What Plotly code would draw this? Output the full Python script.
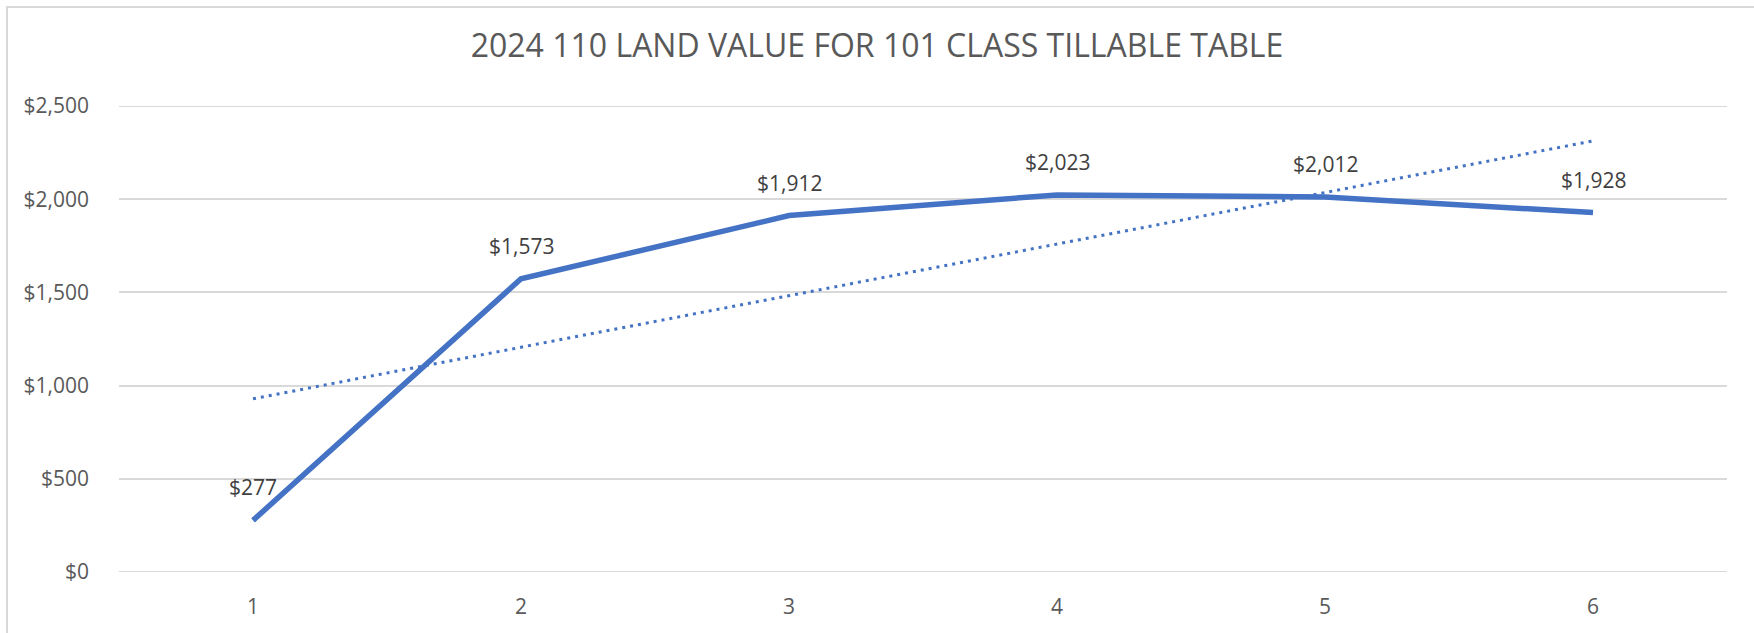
import numpy as np
import plotly.graph_objects as go

categories = [1, 2, 3, 4, 5, 6]
values = [277, 1573, 1912, 2023, 2012, 1928]
y_ticks = [0, 500, 1000, 1500, 2000, 2500]
y_tick_labels = ["$0", "$500", "$1,000", "$1,500", "$2,000", "$2,500"]
title_text = "2024 110 LAND VALUE FOR 101 CLASS TILLABLE TABLE"

W, H = 1754, 633
L, R, T, B = 119, 27, 106, 61

slope, intercept = np.polyfit(categories, values, 1)
trend = [slope * c + intercept for c in categories]

fig = go.Figure()
fig.add_trace(go.Scatter(x=categories, y=trend, mode="lines",
                         line=dict(color="#4472C4", width=3, dash="3px,5px"),
                         hoverinfo="skip", showlegend=False))
fig.add_trace(go.Scatter(x=categories, y=values, mode="lines",
                         line=dict(color="#4472C4", width=5.5),
                         showlegend=False))

for c, v in zip(categories, values):
    fig.add_annotation(x=c, y=v, text=f"${v:,}", showarrow=False, yshift=33,
                       font=dict(family="Open Sans", size=21, color="#404040"))

pw, ph = W - L - R, H - T - B
x0 = (7 - L) / pw
y1 = 1 + (T - 7) / ph
fig.add_shape(type="rect", xref="paper", yref="paper", x0=x0, x1=1 + (R + 10) / pw,
              y0=-(B + 10) / ph, y1=y1, line=dict(color="#D9D9D9", width=2),
              fillcolor="rgba(0,0,0,0)", layer="below")

# gridlines at range edges (plotly omits them at the exact range ends)
for yv in (y_ticks[0], y_ticks[-1]):
    fig.add_shape(type="line", xref="paper", yref="y", x0=0, x1=1, y0=yv, y1=yv,
                  line=dict(color="#D9D9D9", width=2), layer="below")

fig.update_layout(
    width=W, height=H,
    margin=dict(l=L, r=R, t=T, b=B),
    paper_bgcolor="white", plot_bgcolor="white",
    title=dict(text=title_text, x=0.5, xanchor="center", y=1 - 46 / H, yanchor="middle",
               font=dict(family="Open Sans", size=32, color="#595959")),
    font=dict(family="Open Sans", color="#595959"),
    xaxis=dict(range=[0.5, 6.5], tickvals=categories, ticktext=[str(c) for c in categories],
               showgrid=False, zeroline=False, showline=False,
               tickfont=dict(size=21, color="#595959"), ticks="", ticklabelstandoff=20),
    yaxis=dict(range=[0, 2500], tickvals=y_ticks, ticktext=y_tick_labels,
               showgrid=True, gridcolor="#D9D9D9", gridwidth=2, zeroline=False,
               showline=False, tickfont=dict(size=21, color="#595959"),
               ticks="", ticklabelstandoff=29),
)

fig.write_html("out.html", config={"displayModeBar": False},
               post_script="document.body.style.margin='0';")
